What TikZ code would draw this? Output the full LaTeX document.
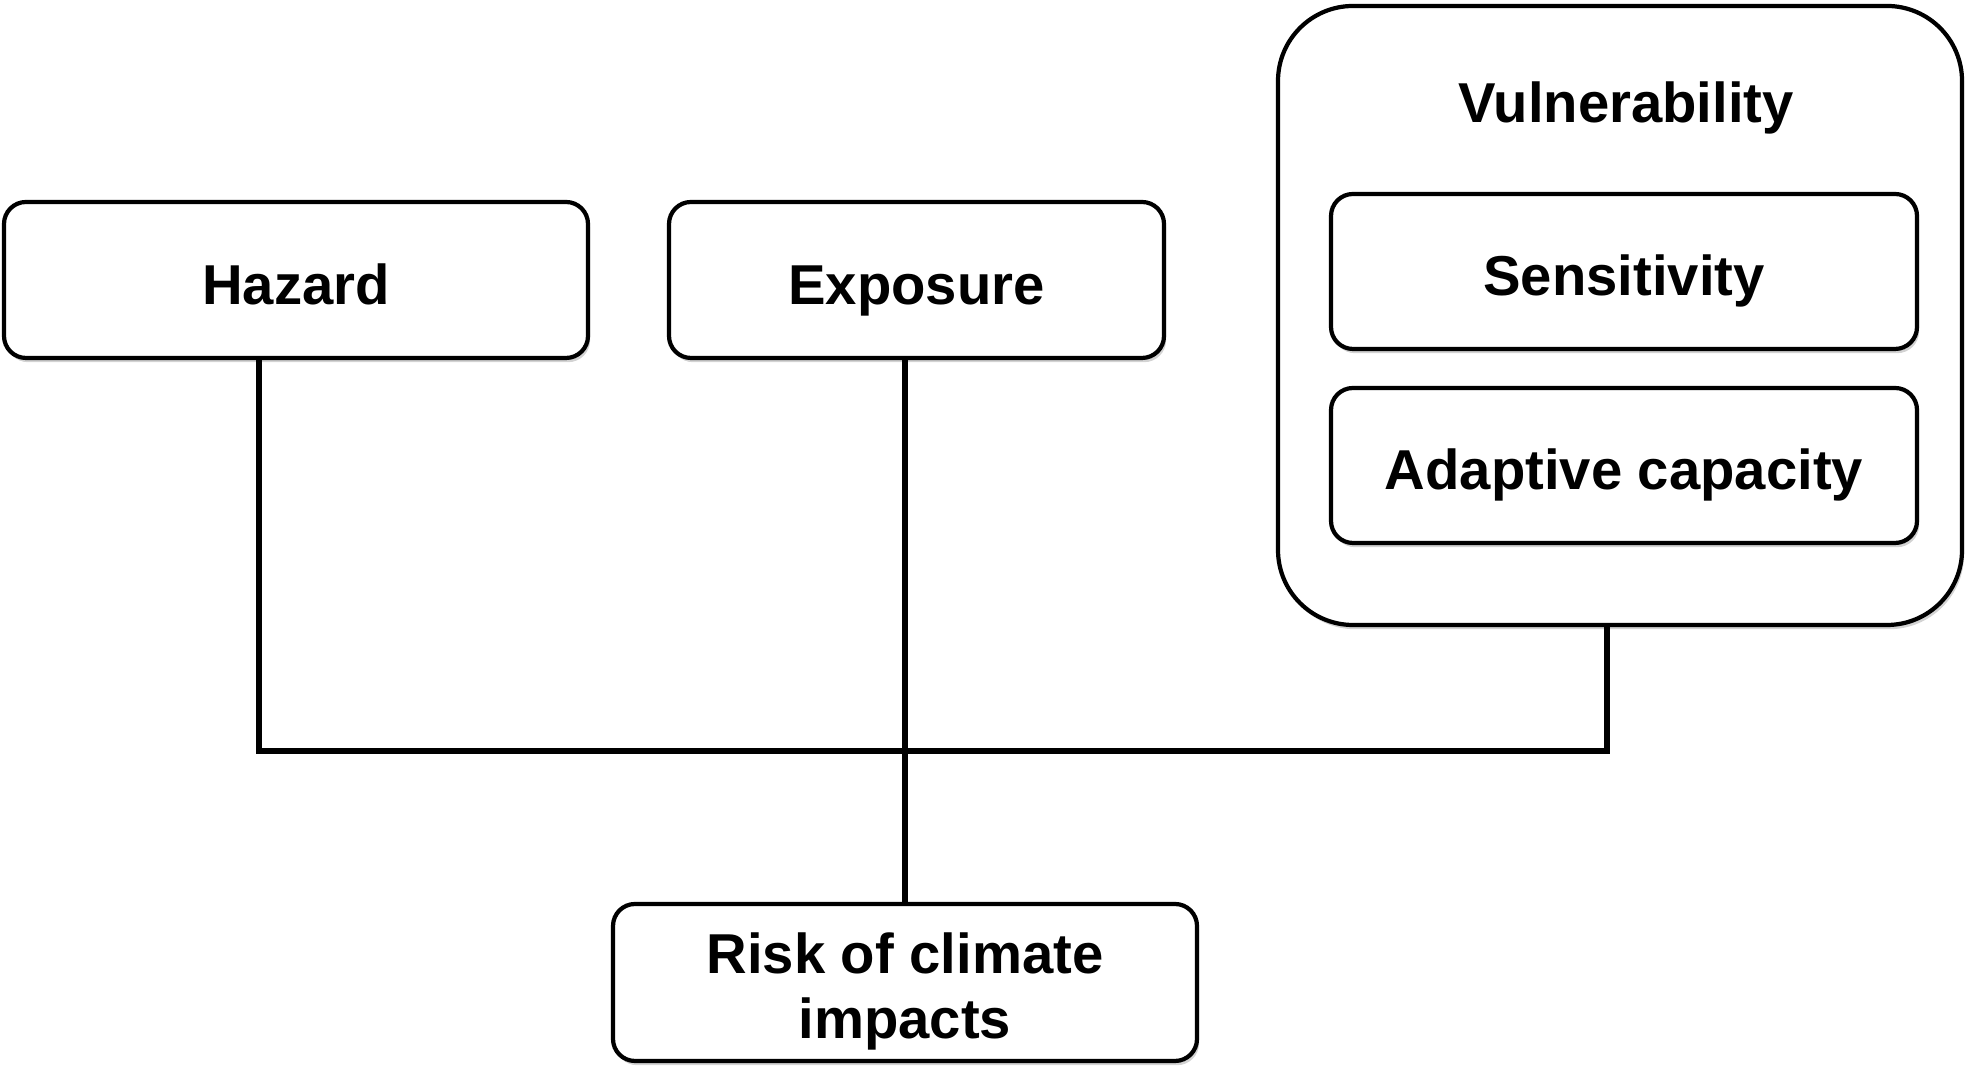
\documentclass[tikz,border=0pt]{standalone}
\usepackage{fontspec}
\setmainfont{Liberation Sans}
\usetikzlibrary{calc}
\usetikzlibrary{shadows}

\begin{document}
\begin{tikzpicture} [
 box/.style={draw, line width=1.2pt, rounded corners=0.22cm, fill=white, align=center,
  font=\fontsize{16}{18.5}\selectfont\bfseries, inner sep=0pt, text height=15pt, text depth=1.1pt,
  drop shadow={shadow xshift=0.6pt, shadow yshift=-1.2pt, opacity=0.35}},
 link/.style={line width=1.7pt}]
\useasboundingbox (0,0) rectangle (19.75,10.75);
\node[box, minimum width=6.84cm, minimum height=6.19cm, rounded corners=0.75cm] (vuln) at (16.20,7.595) {};
\node[font=\fontsize{16}{18.5}\selectfont\bfseries] (vulntitle) at (16.26,9.67) {Vulnerability};
\node[box, minimum width=5.84cm, minimum height=1.56cm] (hazard) at (2.96,7.95) {Hazard};
\node[box, minimum width=4.95cm, minimum height=1.56cm] (exposure) at (9.165,7.95) {Exposure};
\node[box, minimum width=5.86cm, minimum height=1.55cm] (sens) at (16.24,8.035) {Sensitivity};
\node[box, minimum width=5.86cm, minimum height=1.55cm] (adapt) at (16.24,6.095) {Adaptive capacity};
\node[box, minimum width=5.84cm, minimum height=1.57cm, text height=, text depth=] (risk) at (9.05,0.925) {\raisebox{-0.09cm}[\height][\depth]{\parbox{5.8cm}{\centering Risk of climate\\impacts}}};
\coordinate (hz) at (2.59,3.24);
\coordinate (vz) at (16.07,3.24);
\draw[link] (hazard.south -| hz) -- (hz) -- (vz) -- (vuln.south -| vz);
\draw[link] (exposure.south -| risk.north) -- (risk.north);
\end{tikzpicture}
\end{document}
